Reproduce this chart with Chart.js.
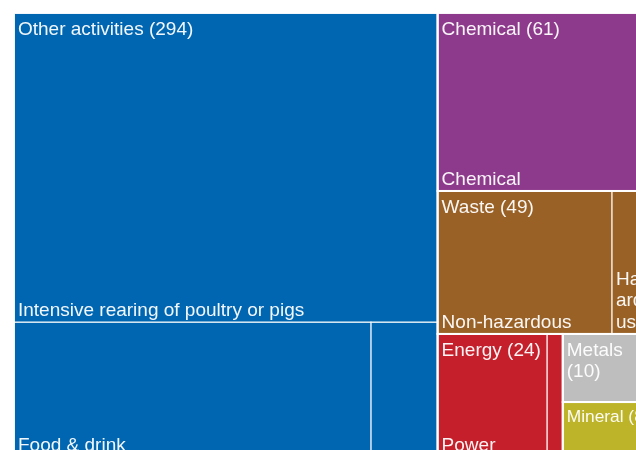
<!DOCTYPE html>
<html>
<head>
<meta charset="utf-8">
<script src="https://cdn.jsdelivr.net/npm/chart.js@4"></script>
<style>
html, body { margin: 0; padding: 0; background: #fff; }
#wrap { width: 636px; height: 450px; position: relative; }
</style>
</head>
<body>
<div id="wrap"><canvas id="treemap"></canvas></div>
<script>
// top level sectors (sorted largest first)
const groups = ["Other activities", "Chemical", "Waste", "Energy", "Metals", "Mineral"];
const groupValues = [294, 61, 49, 24, 10, 8];
const groupColors = ["#0066b2", "#8e3a8c", "#9a6126", "#c41f2b", "#bebebe", "#bdb42a"];

// sub-activities inside each sector
const subLabels = [
    ["Intensive rearing of poultry or pigs", "Food & drink", ""],
    ["Chemical"],
    ["Non-hazardous", "Hazardous"],
    ["Power", ""],
    [""],
    [""]
];
const subValues = [
    [205, 75, 14],
    [61],
    [39, 10],
    [21, 3],
    [10],
    [8]
];

// size of the whole map in value space (width : height of the original)
const MAP_W = 144.9;
const MAP_H = 100;
const FONT_SIZE = 19;
const LINE_H = 21.5;
const font = size => `${size}px "Liberation Sans", Arial, sans-serif`;

const sum = arr => arr.reduce((a, b) => a + b, 0);

function worst(row, side) {
    const s = sum(row);
    const mx = Math.max(...row), mn = Math.min(...row);
    return Math.max(side * side * mx / (s * s), (s * s) / (side * side * mn));
}

// plain squarified treemap layout
function squarify(vals, x, y, w, h) {
    const scale = w * h / sum(vals);
    const areas = vals.map(v => v * scale);
    const rects = [];
    let i = 0;
    while (i < areas.length) {
        const side = Math.min(w, h);
        const row = [areas[i]];
        let j = i + 1;
        while (j < areas.length && worst([...row, areas[j]], side) <= worst(row, side)) {
            row.push(areas[j]);
            j++;
        }
        const s = sum(row);
        if (w >= h) {
            const cw = s / h;
            let yy = y;
            row.forEach(a => { rects.push({ x, y: yy, w: cw, h: a / cw }); yy += a / cw; });
            x += cw; w -= cw;
        } else {
            const rh = s / w;
            let xx = x;
            row.forEach(a => { rects.push({ x: xx, y, w: a / rh, h: rh }); xx += a / rh; });
            y += rh; h -= rh;
        }
        i = j;
    }
    return rects;
}

const groupRects = squarify(groupValues, 0, 0, MAP_W, MAP_H);
const childRects = groupRects.map((g, i) => squarify(subValues[i], g.x, g.y, g.w, g.h));

function wrapText(ctx, text, maxW) {
    const lines = [];
    let line = "";
    text.split(" ").forEach(word => {
        const test = line ? line + " " + word : word;
        if (ctx.measureText(test).width <= maxW) { line = test; return; }
        if (line) lines.push(line);
        line = "";
        // break long words by characters
        let part = "";
        for (const ch of word) {
            if (ctx.measureText(part + ch).width > maxW && part) { lines.push(part); part = ch; }
            else part += ch;
        }
        line = part;
    });
    if (line) lines.push(line);
    return lines;
}

const treemapPlugin = {
    id: "treemap",
    afterDatasetsDraw(chart) {
        const { ctx, scales: { x, y } } = chart;
        const px = r => {
            const x0 = x.getPixelForValue(r.x), x1 = x.getPixelForValue(r.x + r.w);
            const y0 = y.getPixelForValue(r.y), y1 = y.getPixelForValue(r.y + r.h);
            return { left: x0, top: y0, width: x1 - x0, height: y1 - y0 };
        };
        ctx.save();

        childRects.forEach((cells, i) => {
            cells.forEach(c => {
                const p = px(c);
                ctx.fillStyle = groupColors[i];
                ctx.fillRect(p.left, p.top, p.width, p.height);
            });
        });

        ctx.strokeStyle = "rgba(255,255,255,0.55)";
        ctx.lineWidth = 1.5;
        childRects.flat().forEach(c => {
            const p = px(c);
            ctx.strokeRect(p.left, p.top, p.width, p.height);
        });

        ctx.strokeStyle = "rgba(255,255,255,0.9)";
        ctx.lineWidth = 2;
        groupRects.forEach(g => {
            const p = px(g);
            ctx.strokeRect(p.left, p.top, p.width, p.height);
        });

        ctx.font = font(FONT_SIZE);
        ctx.fillStyle = "rgba(255,255,255,0.95)";
        ctx.textBaseline = "alphabetic";
        ctx.textAlign = "left";

        // sub-activity names sit at the bottom of their cell
        childRects.forEach((cells, i) => {
            cells.forEach((c, k) => {
                const label = subLabels[i][k];
                if (!label) return;
                const p = px(c);
                const lines = wrapText(ctx, label, p.width - 2);
                const last = p.top + p.height - 6;
                lines.forEach((ln, n) => {
                    ctx.fillText(ln, p.left + 4, last - (lines.length - 1 - n) * LINE_H);
                });
            });
        });

        // sector names with counts at the top
        groupRects.forEach((g, i) => {
            const p = px(g);
            const text = `${groups[i]} (${groupValues[i]})`;
            ctx.font = font(FONT_SIZE);
            let lines = wrapText(ctx, text, p.width - 8);
            let size = FONT_SIZE;
            // short cells: shrink the label onto one line instead of wrapping
            if (lines.length > 1 && 22 + (lines.length - 1) * LINE_H > p.height * 0.7) {
                size = FONT_SIZE * (p.width - 11) / ctx.measureText(text).width;
                ctx.font = font(size);
                lines = [text];
            }
            const k = size / FONT_SIZE;
            lines.forEach((ln, n) => ctx.fillText(ln, p.left + 4, p.top + 22 * k + n * LINE_H * k));
        });

        ctx.restore();
    }
};

const ctx = document.getElementById("treemap").getContext("2d");

new Chart(ctx, {
    type: "scatter",
    data: { datasets: [{ data: [], pointRadius: 0 }] },
    options: {
        responsive: true,
        maintainAspectRatio: false,
        animation: false,
        layout: { padding: { left: 14, top: 13, right: 0, bottom: 0 } },
        plugins: { legend: { display: false }, tooltip: { enabled: false } },
        scales: {
            x: { type: "linear", display: false, min: 0, max: MAP_W * 622 / 642.6 },
            y: { type: "linear", display: false, min: 0, max: MAP_H * 437 / 443.5, reverse: true }
        }
    },
    plugins: [treemapPlugin]
});
</script>
</body>
</html>
